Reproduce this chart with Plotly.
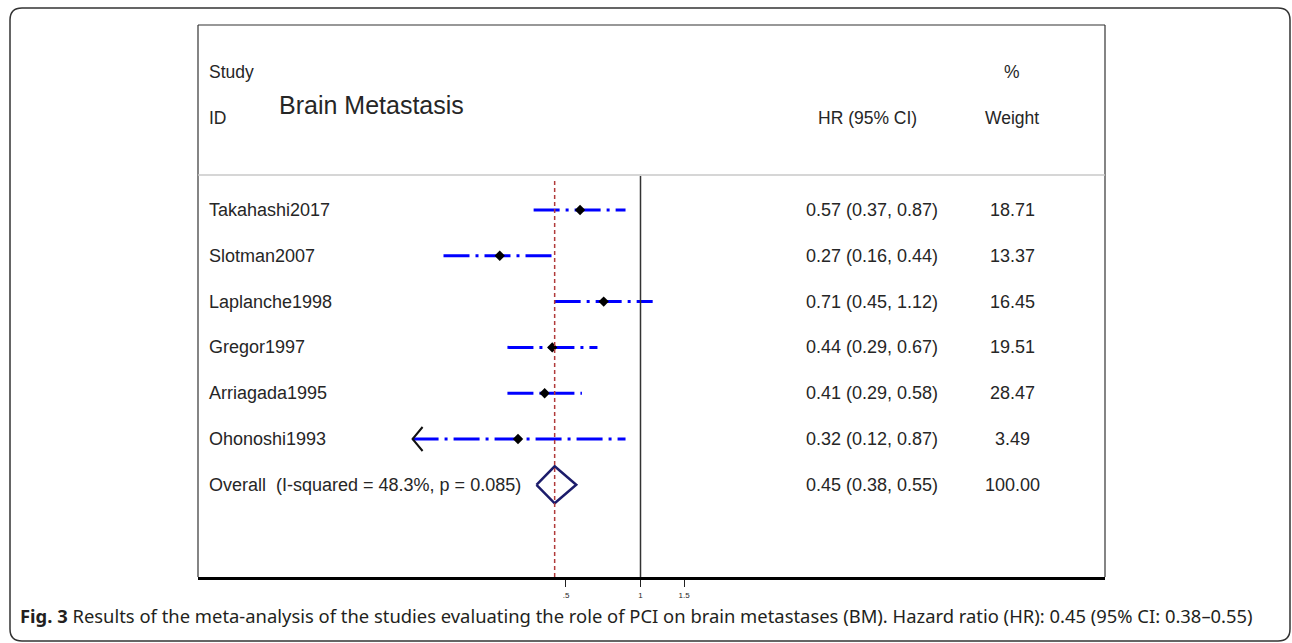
import math
import plotly.graph_objects as go

# ---------------- data ----------------
studies = ["Takahashi2017", "Slotman2007", "Laplanche1998", "Gregor1997",
           "Arriagada1995", "Ohonoshi1993"]
hr = [0.57, 0.27, 0.71, 0.44, 0.41, 0.32]
ci_low = [0.37, 0.16, 0.45, 0.29, 0.29, 0.12]
ci_high = [0.87, 0.44, 1.12, 0.67, 0.58, 0.87]
weights = [18.71, 13.37, 16.45, 19.51, 28.47, 3.49]
arrow_left = [False, False, False, False, False, True]

overall_label = "Overall  (I-squared = 48.3%, p = 0.085)"
overall_hr = 0.45
overall_low = 0.38
overall_high = 0.55
overall_weight = 100.00

tick_vals = [0.5, 1, 1.5]
tick_text = [".5", "1", "1.5"]

caption_bold = "Fig. 3"
caption_text = (" Results of the meta-analysis of the studies evaluating the role of PCI on "
                "brain metastases (BM). Hazard ratio (HR): 0.45 (95% CI: 0.38–0.55)")

# ---------------- geometry helpers ----------------
W, H = 1292, 643
FRAME_L, FRAME_R, FRAME_T, FRAME_B = 198, 1105, 25, 577
X_ONE_PX = 640.5          # pixel of HR = 1
PX_PER_LN = 107.5         # pixels per natural-log unit
ROW0_PX = 210             # pixel of first study row
ROW_STEP = 45.8           # pixels between rows


def px_x(p):
    return p / W


def px_y(p):
    return 1 - p / H


def ln_at(p):
    return (p - X_ONE_PX) / PX_PER_LN


def row_at(p):
    return (p - ROW0_PX) / ROW_STEP


x_range = [ln_at(FRAME_L) / math.log(10), ln_at(FRAME_R) / math.log(10)]
y_range = [row_at(FRAME_B), row_at(FRAME_T)]

TXT_FONT = "Liberation Sans, Arial, sans-serif"
TXT_COL = "#262626"

fig = go.Figure()

n = len(studies)
rows = list(range(n))
overall_row = n

# CI lines
for i in rows:
    fig.add_trace(go.Scatter(
        x=[ci_low[i], ci_high[i]], y=[i, i], mode="lines",
        line=dict(color="#0000ff", width=3, dash="26px,6px,3px,6px"),
        hoverinfo="skip", showlegend=False))
    if arrow_left[i]:
        f = math.exp(10 / PX_PER_LN)
        dy = 12 / ROW_STEP
        fig.add_trace(go.Scatter(
            x=[ci_low[i] * f, ci_low[i], ci_low[i] * f],
            y=[i - dy, i, i + dy], mode="lines",
            line=dict(color="#111111", width=2),
            hoverinfo="skip", showlegend=False))

# point estimates
fig.add_trace(go.Scatter(
    x=hr, y=rows, mode="markers",
    marker=dict(symbol="diamond", size=8, color="#000000"),
    hoverinfo="skip", showlegend=False))

# overall diamond
dh = 18.5 / ROW_STEP
fig.add_trace(go.Scatter(
    x=[overall_low, overall_hr, overall_high, overall_hr, overall_low],
    y=[overall_row, overall_row - dh, overall_row, overall_row + dh, overall_row],
    mode="lines", line=dict(color="#1c1c6b", width=2.5),
    hoverinfo="skip", showlegend=False))

shapes = []
# inner frame (top, left, right)
shapes.append(dict(type="line", xref="paper", yref="paper",
                   x0=px_x(FRAME_L), x1=px_x(FRAME_R), y0=px_y(FRAME_T), y1=px_y(FRAME_T),
                   line=dict(color="#333333", width=1.2)))
shapes.append(dict(type="line", xref="paper", yref="paper",
                   x0=px_x(FRAME_L), x1=px_x(FRAME_L), y0=px_y(FRAME_T), y1=px_y(FRAME_B),
                   line=dict(color="#333333", width=1.2)))
shapes.append(dict(type="line", xref="paper", yref="paper",
                   x0=px_x(FRAME_R), x1=px_x(FRAME_R), y0=px_y(FRAME_T), y1=px_y(FRAME_B),
                   line=dict(color="#333333", width=1.2)))
# header separator
shapes.append(dict(type="line", xref="paper", yref="paper",
                   x0=px_x(FRAME_L), x1=px_x(FRAME_R), y0=px_y(175), y1=px_y(175),
                   line=dict(color="#c8c8c8", width=1.5)))
# null line
shapes.append(dict(type="line", xref="x", yref="paper",
                   x0=1, x1=1, y0=px_y(FRAME_B), y1=px_y(176),
                   line=dict(color="#333333", width=1.5)))
# overall dashed line
shapes.append(dict(type="line", xref="x", yref="paper",
                   x0=overall_hr, x1=overall_hr, y0=px_y(FRAME_B), y1=px_y(181),
                   line=dict(color="#b03a3a", width=1.5, dash="4px,3px")))

# outer rounded border
L, T, R, B, r = 10, 8, 1290, 641, 12
path = (f"M {px_x(L)},{px_y(T + r)} Q {px_x(L)},{px_y(T)} {px_x(L + r)},{px_y(T)} "
        f"L {px_x(R - r)},{px_y(T)} Q {px_x(R)},{px_y(T)} {px_x(R)},{px_y(T + r)} "
        f"L {px_x(R)},{px_y(B - r)} Q {px_x(R)},{px_y(B)} {px_x(R - r)},{px_y(B)} "
        f"L {px_x(L + r)},{px_y(B)} Q {px_x(L)},{px_y(B)} {px_x(L)},{px_y(B - r)} Z")
shapes.append(dict(type="path", xref="paper", yref="paper", path=path,
                   line=dict(color="#333333", width=1.5)))

ann = []


def add_text(text, x, y, yref="paper", xanchor="left", size=18, family=TXT_FONT, color=TXT_COL):
    ann.append(dict(text=text, x=x, y=y, xref="paper", yref=yref, xanchor=xanchor,
                    yanchor="middle", showarrow=False,
                    font=dict(family=family, size=size, color=color)))


# headers
add_text("Study", px_x(207), px_y(72), size=17.5)
add_text("ID", px_x(207), px_y(118), size=17.5)
add_text("Brain Metastasis", px_x(277), px_y(105), size=25)
add_text("HR (95% CI)", px_x(867), px_y(118), xanchor="center", size=17.5)
add_text("%", px_x(1012), px_y(72), xanchor="center", size=17.5)
add_text("Weight", px_x(1012), px_y(118), xanchor="center", size=17.5)

# rows
labels = studies + [overall_label]
hrs = hr + [overall_hr]
lows = ci_low + [overall_low]
highs = ci_high + [overall_high]
wts = weights + [overall_weight]
for i in range(n + 1):
    add_text(labels[i], px_x(207), i, yref="y")
    add_text(f"{hrs[i]:.2f} ({lows[i]:.2f}, {highs[i]:.2f})", px_x(804), i, yref="y")
    add_text(f"{wts[i]:.2f}", px_x(1013), i, yref="y", xanchor="center")

# caption
add_text(f"<b>{caption_bold}</b>{caption_text}", px_x(18), px_y(615),
         size=18.4, family="Noto Sans, Open Sans, sans-serif", color="#231f20")

fig.update_layout(
    width=W, height=H, margin=dict(l=0, r=0, t=0, b=0),
    paper_bgcolor="white", plot_bgcolor="white",
    shapes=shapes, annotations=ann,
    xaxis=dict(type="log", domain=[px_x(FRAME_L), px_x(FRAME_R)], range=x_range,
               showgrid=False, zeroline=False, showline=True, linecolor="#000000",
               linewidth=2.5, ticks="outside", ticklen=7, tickwidth=1.2,
               tickcolor="#222222", tickvals=tick_vals, ticktext=tick_text,
               tickfont=dict(family=TXT_FONT, size=8, color=TXT_COL),
               ticklabelstandoff=2, fixedrange=True),
    yaxis=dict(domain=[px_y(FRAME_B), px_y(FRAME_T)], range=y_range,
               showgrid=False, zeroline=False, showline=False, showticklabels=False,
               ticks="", fixedrange=True),
)

fig.write_html("out.html")
